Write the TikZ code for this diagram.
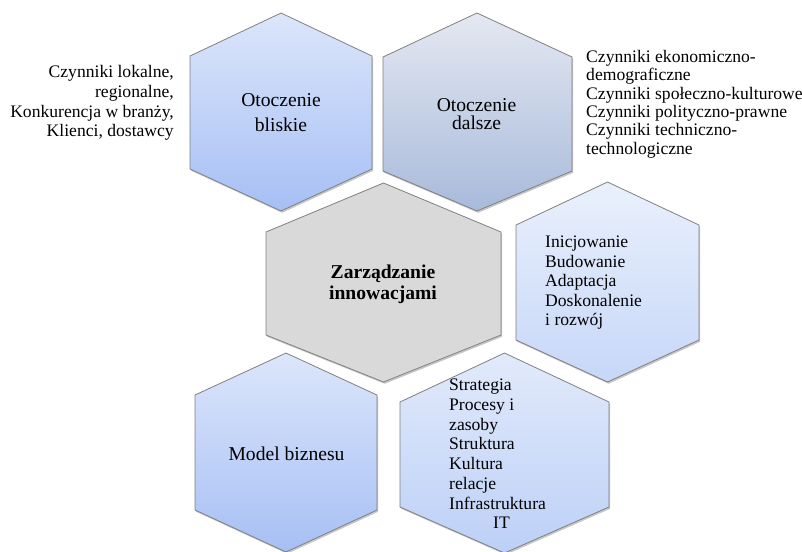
\documentclass[tikz,border=0pt]{standalone}
\usepackage{fontspec}
\setmainfont{Liberation Serif}
\usetikzlibrary{shadows}
\definecolor{hexline}{HTML}{808080}
\definecolor{nearTop}{HTML}{DCE6FB}
\definecolor{nearBot}{HTML}{A6BFF4}
\definecolor{farTop}{HTML}{E4E8F1}
\definecolor{farBot}{HTML}{A8BADB}
\definecolor{coreFill}{HTML}{D9D9D9}
\definecolor{paleTop}{HTML}{EAF0FC}
\definecolor{paleBot}{HTML}{C6D7F8}
\definecolor{softTop}{HTML}{E2EAFB}
\definecolor{softBot}{HTML}{BCD0F7}
\begin{document}
\begin{tikzpicture}[x=1pt,y=-1pt,
  hexbox/.style={draw=hexline, line width=0.8pt, line join=miter,
    drop shadow={shadow xshift=1.2pt, shadow yshift=-1.8pt, opacity=0.22, fill=black}},
  nearhex/.style={hexbox, top color=nearTop, bottom color=nearBot},
  farhex/.style={hexbox, top color=farTop, bottom color=farBot},
  corehex/.style={hexbox, fill=coreFill},
  palehex/.style={hexbox, top color=paleTop, bottom color=paleBot},
  softhex/.style={hexbox, top color=softTop, bottom color=softBot},
  listtext/.style={inner sep=0pt, font=\fontsize{17.6}{19.7}\selectfont},
  hextitle/.style={inner sep=0pt, align=center}
]
\useasboundingbox (0,0) rectangle (802,551);

% Otoczenie bliskie
\path[nearhex] (281,13) -- (372,56) -- (372,169) -- (281,211) -- (190,169) -- (190,56) -- cycle;
% Otoczenie dalsze
\path[farhex] (477,13) -- (572,57) -- (572,171) -- (477,211) -- (383,171) -- (383,57) -- cycle;
% Zarzadzanie innowacjami (core)
\path[corehex] (383.5,183) -- (501,232) -- (501,335) -- (383.5,382) -- (266,335) -- (266,232) -- cycle;
% Etapy
\path[palehex] (607.5,182) -- (699,225) -- (699,340) -- (607.5,382) -- (516,340) -- (516,225) -- cycle;
% Model biznesu
\path[nearhex] (286,353) -- (377,395) -- (377,510) -- (286,552) -- (195,510) -- (195,395) -- cycle;
% Elementy organizacji
\path[softhex] (504.5,353) -- (609,402) -- (609,507) -- (504.5,553) -- (400,507) -- (400,402) -- cycle;

% labels inside the hexagons
\node[hextitle, font=\fontsize{19.6}{25}\selectfont] (near) at (281,113) {Otoczenie\\bliskie};
\node[hextitle, font=\fontsize{19.6}{17.7}\selectfont] (far) at (476.5,114) {Otoczenie\\dalsze};
\node[hextitle, font=\fontsize{19.6}{21}\selectfont\bfseries] (core) at (383,284) {Zarządzanie\\innowacjami};
\node[listtext, anchor=west, align=left, font=\fontsize{17.6}{19.5}\selectfont] (stages) at (545,283)
  {Inicjowanie\\Budowanie\\Adaptacja\\Doskonalenie\\i rozwój};
\node[hextitle, font=\fontsize{19.6}{22}\selectfont] (model) at (286.5,454) {Model biznesu};
\node[listtext, anchor=west, align=left] (org) at (449,454)
  {Strategia\\Procesy i\\zasoby\\Struktura\\Kultura\\relacje\\Infrastruktura\\\hspace*{44pt}IT};

% factor lists beside the top hexagons
\node[listtext, anchor=east, align=right] (local) at (174,103)
  {Czynniki lokalne,\\regionalne,\\Konkurencja w branży,\\Klienci, dostawcy};
\node[listtext, anchor=west, align=left, font=\fontsize{17.6}{18.4}\selectfont] (macro) at (586,104)
  {Czynniki ekonomiczno-\\demograficzne\\Czynniki społeczno-kulturowe\\Czynniki polityczno-prawne\\Czynniki techniczno-\\technologiczne};
\end{tikzpicture}
\end{document}
